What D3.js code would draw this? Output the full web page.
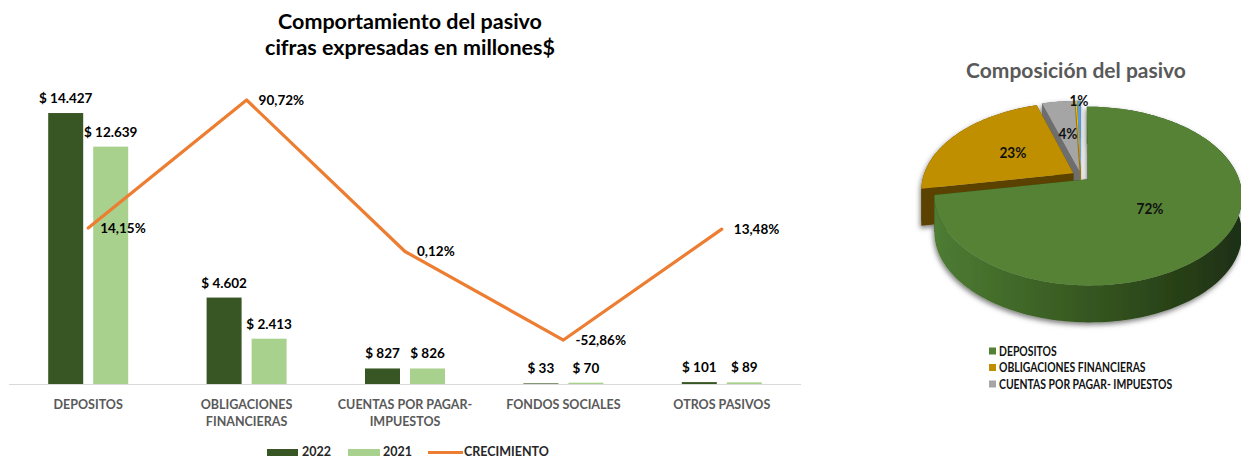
<!DOCTYPE html>
<html lang="es">
<head>
<meta charset="utf-8">
<title>Comportamiento del pasivo</title>
<script src="https://d3js.org/d3.v7.min.js"></script>
<style>
  body { margin: 0; background: #fff; }
  svg { display: block; font-family: Lato, "Open Sans", sans-serif; }
</style>
</head>
<body>
<div id="chart"></div>
<script>
// cifras en millones $
const categories = ["DEPOSITOS", "OBLIGACIONES FINANCIERAS", "CUENTAS POR PAGAR- IMPUESTOS", "FONDOS SOCIALES", "OTROS PASIVOS"];
const tickLines = [["DEPOSITOS"], ["OBLIGACIONES", "FINANCIERAS"], ["CUENTAS POR PAGAR-", "IMPUESTOS"], ["FONDOS SOCIALES"], ["OTROS PASIVOS"]];
const years = ["2022", "2021"];
const values2022 = [14427, 4602, 827, 33, 101];
const values2021 = [12639, 2413, 826, 70, 89];
const growth = [14.15, 90.72, 0.12, -52.86, 13.48];
const pieLegend = ["DEPOSITOS", "OBLIGACIONES FINANCIERAS", "CUENTAS POR PAGAR- IMPUESTOS"];

const barColors = ["#375623", "#A9D18E"];
const lineColor = "#ED7D31";
const pieTop = ["#548235", "#BF8F00", "#A5A5A5", "#FFC000", "#5B9BD5"];
const pieSide = ["#2F4B1E", "#5C4200", "#6E6E6E", "#9E7700", "#3A6E9E"];

const W = 1241, H = 459;
const svg = d3.select("#chart").append("svg")
  .attr("width", W)
  .attr("height", H);

const loc = d3.formatLocale({decimal: ",", thousands: ".", grouping: [3], currency: ["$ ", ""], minus: "-"});
const fmtMoney = loc.format("$,");
const fmtPct = v => loc.format(".2f")(v) + "%";

//---------------- bar + line chart ----------------
const base = 384;
const x0 = d3.scaleBand()
  .domain(categories)
  .range([9, 801]);
const bw = x0.bandwidth();
const x1 = d3.scaleBand()
  .domain(years)
  .range([bw / 2 - 40, bw / 2 + 40])
  .paddingInner(10 / 45);
const y = d3.scaleLinear()
  .domain([0, 16000])
  .range([base, 83.5]);
const y2 = d3.scaleLinear()
  .domain([-60, 100])
  .range([352, 84.5]);

// title
const title = svg.append("text")
  .attr("x", 410)
  .attr("y", 29)
  .attr("text-anchor", "middle")
  .style("font-size", "21.5px")
  .style("font-weight", "bold")
  .attr("fill", "#000");
title.append("tspan").attr("x", 410).text("Comportamiento del pasivo");
title.append("tspan").attr("x", 410).attr("dy", 26).text("cifras expresadas en millones$");

const rows = categories.map((c, i) => ({cat: c, vals: [values2022[i], values2021[i]], g: growth[i]}));

const groups = svg.selectAll("g.cat")
  .data(rows)
  .enter()
  .append("g")
  .attr("class", "cat")
  .attr("transform", d => "translate(" + x0(d.cat) + ",0)");

groups.selectAll("rect")
  .data(d => d.vals.map((v, j) => ({year: years[j], v: v, j: j})))
  .enter()
  .append("rect")
  .attr("x", d => x1(d.year))
  .attr("width", x1.bandwidth())
  .attr("y", d => y(d.v))
  .attr("height", d => base - y(d.v))
  .attr("fill", d => barColors[d.j]);

groups.selectAll("text.val")
  .data(d => d.vals.map((v, j) => ({year: years[j], v: v})))
  .enter()
  .append("text")
  .attr("class", "val")
  .attr("x", d => x1(d.year) + x1.bandwidth() / 2)
  .attr("y", d => y(d.v) - 10)
  .attr("text-anchor", "middle")
  .style("font-size", "13.5px")
  .style("font-weight", "bold")
  .attr("fill", "#000")
  .text(d => fmtMoney(d.v));

// axis line
svg.append("line")
  .attr("x1", x0.range()[0])
  .attr("x2", x0.range()[1])
  .attr("y1", base + 0.5)
  .attr("y2", base + 0.5)
  .attr("stroke", "#D9D9D9")
  .attr("stroke-width", 1.2);

// category labels
const ticks = svg.selectAll("text.tick")
  .data(rows)
  .enter()
  .append("text")
  .attr("class", "tick")
  .attr("text-anchor", "middle")
  .style("font-size", "12.5px")
  .style("font-weight", "bold")
  .attr("fill", "#595959");
ticks.each(function(d, i) {
  const t = d3.select(this);
  tickLines[i].forEach((ln, k) => {
    t.append("tspan")
      .attr("x", x0(d.cat) + bw / 2)
      .attr("y", 409 + k * 17)
      .text(ln);
  });
});

// growth line
const line = d3.line()
  .x(d => x0(d.cat) + bw / 2)
  .y(d => y2(d.g));
svg.append("path")
  .datum(rows)
  .attr("d", line)
  .attr("fill", "none")
  .attr("stroke", lineColor)
  .attr("stroke-width", 3.2)
  .attr("stroke-linejoin", "round")
  .attr("stroke-linecap", "round");

svg.selectAll("text.pct")
  .data(rows)
  .enter()
  .append("text")
  .attr("class", "pct")
  .attr("x", d => x0(d.cat) + bw / 2 + 12)
  .attr("y", d => y2(d.g) + 5)
  .style("font-size", "13.5px")
  .style("font-weight", "bold")
  .attr("fill", "#000")
  .text(d => fmtPct(d.g));

// legend
const leg = svg.append("g").attr("transform", "translate(267,452.5)");
leg.append("rect").attr("x", 0).attr("y", -3.5).attr("width", 31).attr("height", 7).attr("fill", barColors[0]);
leg.append("text").attr("x", 35).attr("y", 3.5).text(years[0]);
leg.append("rect").attr("x", 81).attr("y", -3.5).attr("width", 32).attr("height", 7).attr("fill", barColors[1]);
leg.append("text").attr("x", 116).attr("y", 3.5).text(years[1]);
leg.append("line").attr("x1", 161).attr("x2", 196).attr("y1", 0).attr("y2", 0)
  .attr("stroke", lineColor).attr("stroke-width", 3.2);
leg.append("text").attr("x", 197).attr("y", 3.5).text("CRECIMIENTO");
leg.selectAll("text")
  .style("font-size", "12.5px")
  .style("font-weight", "bold")
  .attr("fill", "#262626");

//---------------- 3D pie ----------------
const pc = {cx: 1081, cy: 176, rx: 150, ry: 85, p: 0.186, depth: 37, explode: 0.06};
const total = d3.sum(values2022);
const arcs = d3.pie().sort(null).value(d => d)(values2022)
  .map((a, i) => Object.assign(a, {i: i, mid: (a.startAngle + a.endAngle) / 2}));

function project(a, r, mid, dy) {
  const X = pc.explode * Math.sin(mid) + r * Math.sin(a);
  const Y = pc.explode * Math.cos(mid) + r * Math.cos(a);
  const s = 1 / (1 + pc.p * Y);
  return [pc.cx + pc.rx * X * s, pc.cy - pc.ry * Y * s + dy];
}
function rim(a0, a1, mid, dy) {
  const n = Math.max(2, Math.ceil((a1 - a0) / 0.02));
  return d3.range(n + 1).map(k => project(a0 + (a1 - a0) * k / n, 1, mid, dy));
}
const poly = pts => "M" + pts.map(p => p[0].toFixed(2) + "," + p[1].toFixed(2)).join("L") + "Z";

const defs = svg.append("defs");
const grad = defs.append("linearGradient")
  .attr("id", "greenSide")
  .attr("gradientUnits", "userSpaceOnUse")
  .attr("x1", 930).attr("x2", 1240).attr("y1", 0).attr("y2", 0);
grad.append("stop").attr("offset", "0%").attr("stop-color", "#4E7D33");
grad.append("stop").attr("offset", "55%").attr("stop-color", "#34541F");
grad.append("stop").attr("offset", "100%").attr("stop-color", "#1E3012");
const shadow = defs.append("filter").attr("id", "pieShadow")
  .attr("x", "-10%").attr("y", "-10%").attr("width", "120%").attr("height", "130%");
shadow.append("feDropShadow")
  .attr("dx", -1).attr("dy", 2.5).attr("stdDeviation", 2.5)
  .attr("flood-color", "#000").attr("flood-opacity", 0.5);

const pieG = svg.append("g").attr("filter", "url(#pieShadow)");
// far slices first
const order = arcs.slice().sort((a, b) => Math.cos(b.mid) - Math.cos(a.mid));
order.forEach(a => {
  const g = pieG.append("g");
  const side = a.i === 0 ? "url(#greenSide)" : pieSide[a.i];
  const c0 = project(0, 0, a.mid, 0), c1 = project(0, 0, a.mid, pc.depth);
  [a.startAngle, a.endAngle].forEach(t => {
    g.append("path")
      .attr("d", poly([c0, project(t, 1, a.mid, 0), project(t, 1, a.mid, pc.depth), c1]))
      .attr("fill", pieSide[a.i]);
  });
  const topRim = rim(a.startAngle, a.endAngle, a.mid, 0);
  const botRim = rim(a.startAngle, a.endAngle, a.mid, pc.depth);
  g.append("path")
    .attr("d", poly(topRim.concat(botRim.reverse())))
    .attr("fill", side);
  g.append("path")
    .attr("d", poly([c0].concat(topRim)))
    .attr("fill", pieTop[a.i]);
});

// slice labels
const fmtShare = d3.format(".0%");
svg.selectAll("text.share")
  .data(arcs.filter(a => fmtShare(a.value / total) !== "0%"))
  .enter()
  .append("text")
  .attr("class", "share")
  .attr("text-anchor", "middle")
  .attr("transform", a => {
    const r = a.value / total < 0.02 ? 1.0 : 0.5;
    const p = project(a.mid, r, a.mid, 0);
    return "translate(" + p[0] + "," + (p[1] + 5.5) + ")";
  })
  .style("font-size", "16px")
  .style("font-weight", "bold")
  .attr("fill", "#111")
  .each(function(a) {
    const t = d3.select(this).text(fmtShare(a.value / total));
    t.attr("textLength", this.getComputedTextLength() * 0.85).attr("lengthAdjust", "spacingAndGlyphs");
  });

svg.append("text")
  .attr("x", 1076)
  .attr("y", 78)
  .attr("text-anchor", "middle")
  .style("font-size", "21px")
  .style("font-weight", "bold")
  .attr("fill", "#595959")
  .text("Composición del pasivo");

// legend text is narrow in the original, squeeze it a bit
const pleg = svg.append("g").attr("transform", "translate(989,351)");
pieLegend.forEach((name, k) => {
  pleg.append("rect")
    .attr("x", 0).attr("y", k * 16.5 - 3.5)
    .attr("width", 7).attr("height", 7)
    .attr("fill", pieTop[k]);
  const t = pleg.append("text")
    .attr("x", 10).attr("y", k * 16.5 + 4.5)
    .style("font-size", "13px")
    .style("font-weight", "bold")
    .attr("fill", "#111")
    .text(name);
  t.attr("textLength", t.node().getComputedTextLength() * 0.8).attr("lengthAdjust", "spacingAndGlyphs");
});
</script>
</body>
</html>
